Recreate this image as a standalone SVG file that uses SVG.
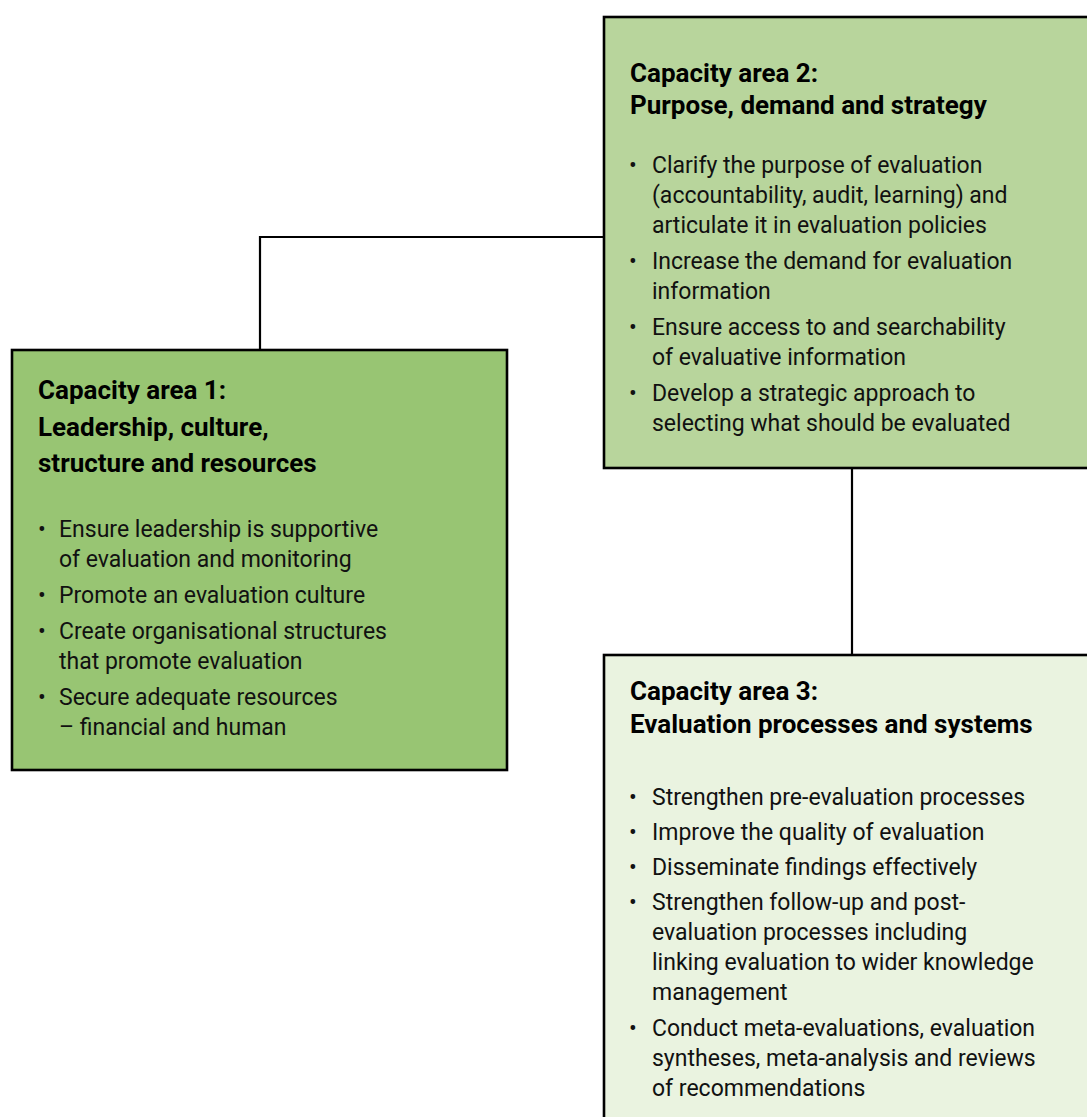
<svg xmlns="http://www.w3.org/2000/svg" width="1087" height="1117" viewBox="0 0 1087 1117">
<style>
.box{stroke:#000;stroke-width:2.6}
.b1{fill:#98C573}.b2{fill:#B8D59C}.b3{fill:#EAF3E0}
.t{font-family:Roboto,"Liberation Sans",sans-serif;font-weight:700;font-size:26px;fill:#000}
.x{font-family:Roboto,"Liberation Sans",sans-serif;font-size:23px;fill:#111}
.d{font-family:Roboto,"Liberation Sans",sans-serif;font-size:23px;fill:#111;text-anchor:middle}
.c{fill:none;stroke:#000;stroke-width:2.2}
</style>
<rect width="1087" height="1117" fill="#fff"/>
<g id="connectors">
<polyline class="c" points="260,350 260,237 604,237"/>
<line class="c" x1="852" y1="468" x2="852" y2="655"/>
</g>
<g id="node1">
<rect class="box b1" x="12" y="350" width="495" height="420"/>
<text class="t" x="38" y="399">Capacity area 1:</text>
<text class="t" x="38" y="436">Leadership, culture,</text>
<text class="t" x="38" y="472">structure and resources</text>
<text class="d" x="42" y="537">•</text>
<text class="x" x="59" y="537">Ensure leadership is supportive</text>
<text class="x" x="59" y="567">of evaluation and monitoring</text>
<text class="d" x="42" y="603">•</text>
<text class="x" x="59" y="603">Promote an evaluation culture</text>
<text class="d" x="42" y="639">•</text>
<text class="x" x="59" y="639">Create organisational structures</text>
<text class="x" x="59" y="669">that promote evaluation</text>
<text class="d" x="42" y="705">•</text>
<text class="x" x="59" y="705">Secure adequate resources</text>
<text class="x" x="59" y="735">– financial and human</text>
</g>
<g id="node2">
<rect class="box b2" x="604" y="17" width="500" height="451"/>
<text class="t" x="630" y="82">Capacity area 2:</text>
<text class="t" x="630" y="114">Purpose, demand and strategy</text>
<text class="d" x="633" y="173">•</text>
<text class="x" x="652" y="173">Clarify the purpose of evaluation</text>
<text class="x" x="652" y="203">(accountability, audit, learning) and</text>
<text class="x" x="652" y="233">articulate it in evaluation policies</text>
<text class="d" x="633" y="269">•</text>
<text class="x" x="652" y="269">Increase the demand for evaluation</text>
<text class="x" x="652" y="299">information</text>
<text class="d" x="633" y="335">•</text>
<text class="x" x="652" y="335">Ensure access to and searchability</text>
<text class="x" x="652" y="365">of evaluative information</text>
<text class="d" x="633" y="401">•</text>
<text class="x" x="652" y="401">Develop a strategic approach to</text>
<text class="x" x="652" y="431">selecting what should be evaluated</text>
</g>
<g id="node3">
<rect class="box b3" x="604" y="655" width="500" height="480"/>
<text class="t" x="630" y="700">Capacity area 3:</text>
<text class="t" x="630" y="733">Evaluation processes and systems</text>
<text class="d" x="633" y="805">•</text>
<text class="x" x="652" y="805">Strengthen pre-evaluation processes</text>
<text class="d" x="633" y="840">•</text>
<text class="x" x="652" y="840">Improve the quality of evaluation</text>
<text class="d" x="633" y="875">•</text>
<text class="x" x="652" y="875">Disseminate findings effectively</text>
<text class="d" x="633" y="910">•</text>
<text class="x" x="652" y="910">Strengthen follow-up and post-</text>
<text class="x" x="652" y="940">evaluation processes including</text>
<text class="x" x="652" y="970">linking evaluation to wider knowledge</text>
<text class="x" x="652" y="1000">management</text>
<text class="d" x="633" y="1036">•</text>
<text class="x" x="652" y="1036">Conduct meta-evaluations, evaluation</text>
<text class="x" x="652" y="1066">syntheses, meta-analysis and reviews</text>
<text class="x" x="652" y="1096">of recommendations</text>
</g>
</svg>
